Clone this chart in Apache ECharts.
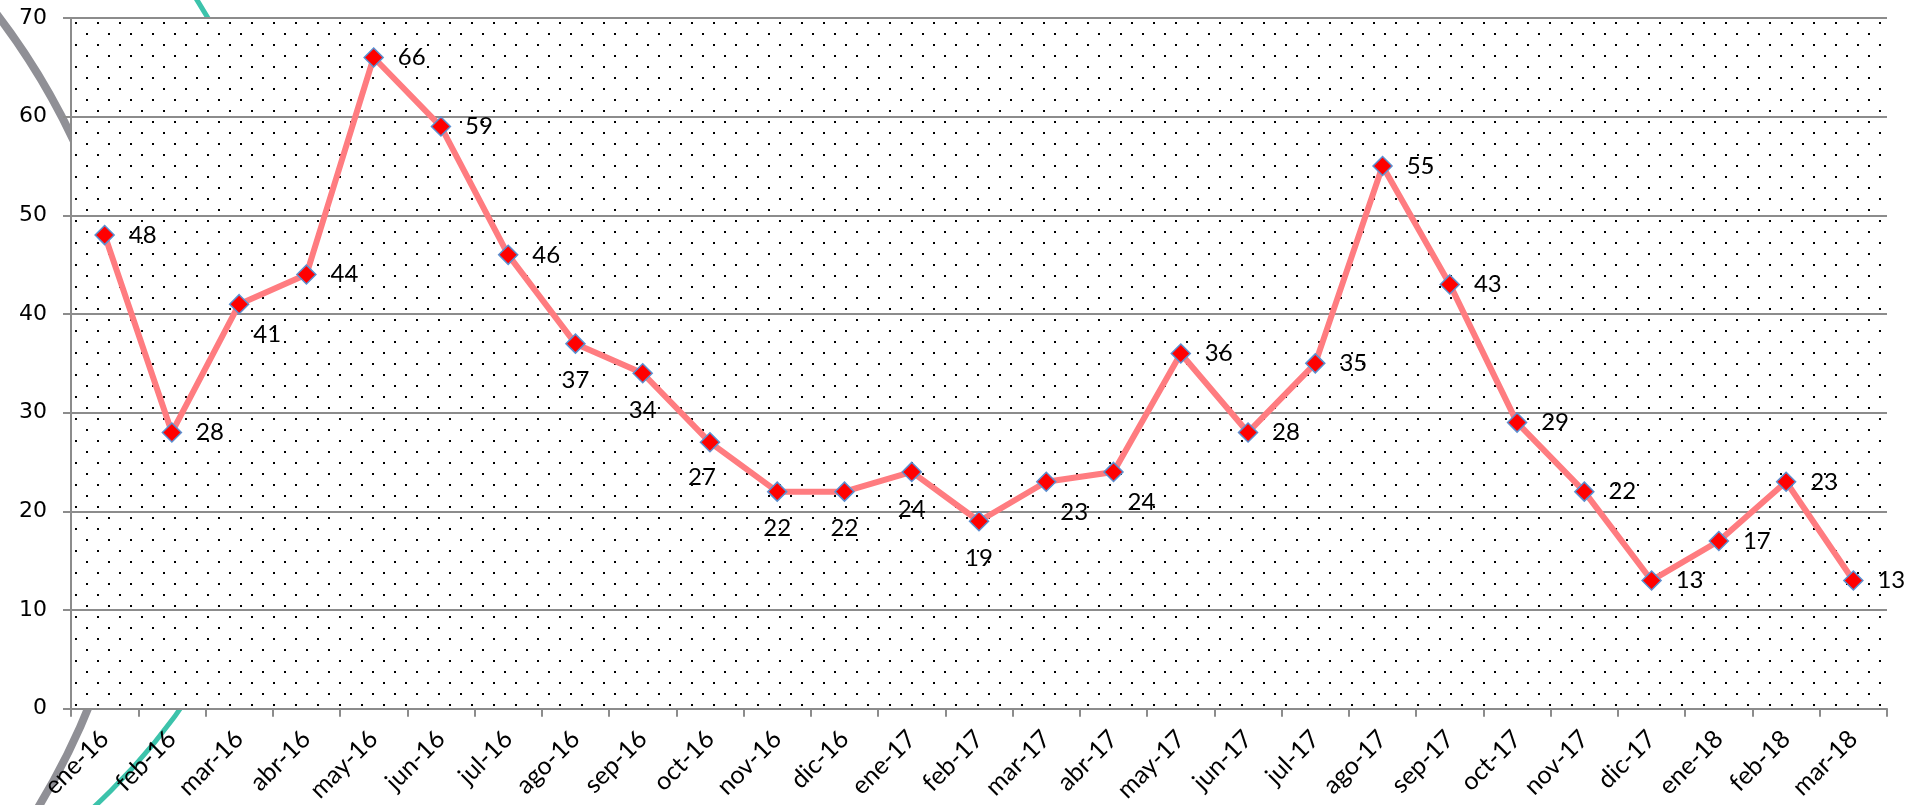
<!DOCTYPE html>
<html>
<head>
<meta charset="utf-8">
<script src="https://cdn.jsdelivr.net/npm/echarts@6/dist/echarts.min.js"></script>
<style>
  html, body { margin: 0; padding: 0; background: #fff; }
  #chart { width: 1907px; height: 805px; }
</style>
</head>
<body>
<div id="chart"></div>
<script>
// month labels
var months = ['ene-16', 'feb-16', 'mar-16', 'abr-16', 'may-16', 'jun-16', 'jul-16', 'ago-16', 'sep-16',
  'oct-16', 'nov-16', 'dic-16', 'ene-17', 'feb-17', 'mar-17', 'abr-17', 'may-17', 'jun-17', 'jul-17',
  'ago-17', 'sep-17', 'oct-17', 'nov-17', 'dic-17', 'ene-18', 'feb-18', 'mar-18']
var counts = [48, 28, 41, 44, 66, 59, 46, 37, 34, 27, 22, 22, 24, 19, 23, 24, 36, 28, 35, 55, 43, 29, 22, 13, 17, 23, 13]
// where each value label sits: r = right, b = below, br = below right, bl = below left
var labelSpots = ['r', 'r', 'br', 'r', 'r', 'r', 'r', 'b', 'b', 'bl', 'b', 'b', 'b', 'b', 'br', 'br',
  'r', 'r', 'r', 'r', 'r', 'r', 'r', 'r', 'r', 'r', 'r']
var yTicks = { min: 0, max: 70, interval: 10 }

var offsets = { r: [38, 0], b: [0, 37], br: [28, 30], bl: [-8, 35] }

// dotted fill of the plot area
function dotPattern() {
  var c = document.createElement('canvas')
  c.width = 22
  c.height = 22
  var ctx = c.getContext('2d')
  ctx.fillStyle = '#ffffff'
  ctx.fillRect(0, 0, 22, 22)
  ctx.fillStyle = '#000000'
  ctx.fillRect(9, 0, 2, 2)
  ctx.fillRect(20, 11, 2, 2)
  return c
}

var chart = echarts.init(document.getElementById('chart'))

chart.setOption({
  backgroundColor: '#ffffff',
  animation: false,
  graphic: [
    {
      type: 'circle',
      z: -10,
      silent: true,
      shape: { cx: -562, cy: 441, r: 703 },
      style: { fill: null, stroke: '#909096', lineWidth: 8 }
    },
    {
      type: 'circle',
      z: -10,
      silent: true,
      shape: { cx: -337, cy: 342, r: 634 },
      style: { fill: null, stroke: '#3cc3ab', lineWidth: 5 }
    }
  ],
  grid: {
    left: 71,
    right: 20,
    top: 18,
    bottom: 95,
    show: true,
    borderWidth: 0,
    backgroundColor: { image: dotPattern(), repeat: 'repeat' }
  },
  xAxis: {
    type: 'category',
    data: months,
    boundaryGap: true,
    axisLine: { lineStyle: { color: '#8c8c8c', width: 2 } },
    axisTick: { show: true, length: 8, lineStyle: { color: '#8c8c8c', width: 2 } },
    axisLabel: {
      rotate: 45,
      interval: 0,
      margin: 26,
      color: '#000',
      fontFamily: 'Lato',
      fontSize: 25
    },
    splitLine: { show: false }
  },
  yAxis: {
    type: 'value',
    min: yTicks.min,
    max: yTicks.max,
    interval: yTicks.interval,
    axisLine: { show: true, lineStyle: { color: '#8c8c8c', width: 2 } },
    axisTick: { show: true, length: 8, lineStyle: { color: '#8c8c8c', width: 2 } },
    axisLabel: {
      margin: 24,
      color: '#000',
      fontFamily: 'DejaVu Sans',
      fontSize: 22
    },
    splitLine: { show: true, lineStyle: { color: '#8c8c8c', width: 2 } }
  },
  series: [{
    type: 'line',
    data: counts.map(function (v, i) {
      return {
        value: v,
        label: { offset: offsets[labelSpots[i]] }
      }
    }),
    symbol: 'diamond',
    symbolSize: 19,
    itemStyle: { color: '#ff0000', borderColor: '#5b8fd0', borderWidth: 1.5 },
    lineStyle: { color: '#ff7c80', width: 6 },
    label: {
      show: true,
      position: 'inside',
      color: '#000',
      fontFamily: 'Lato',
      fontSize: 24
    }
  }]
})
</script>
</body>
</html>
